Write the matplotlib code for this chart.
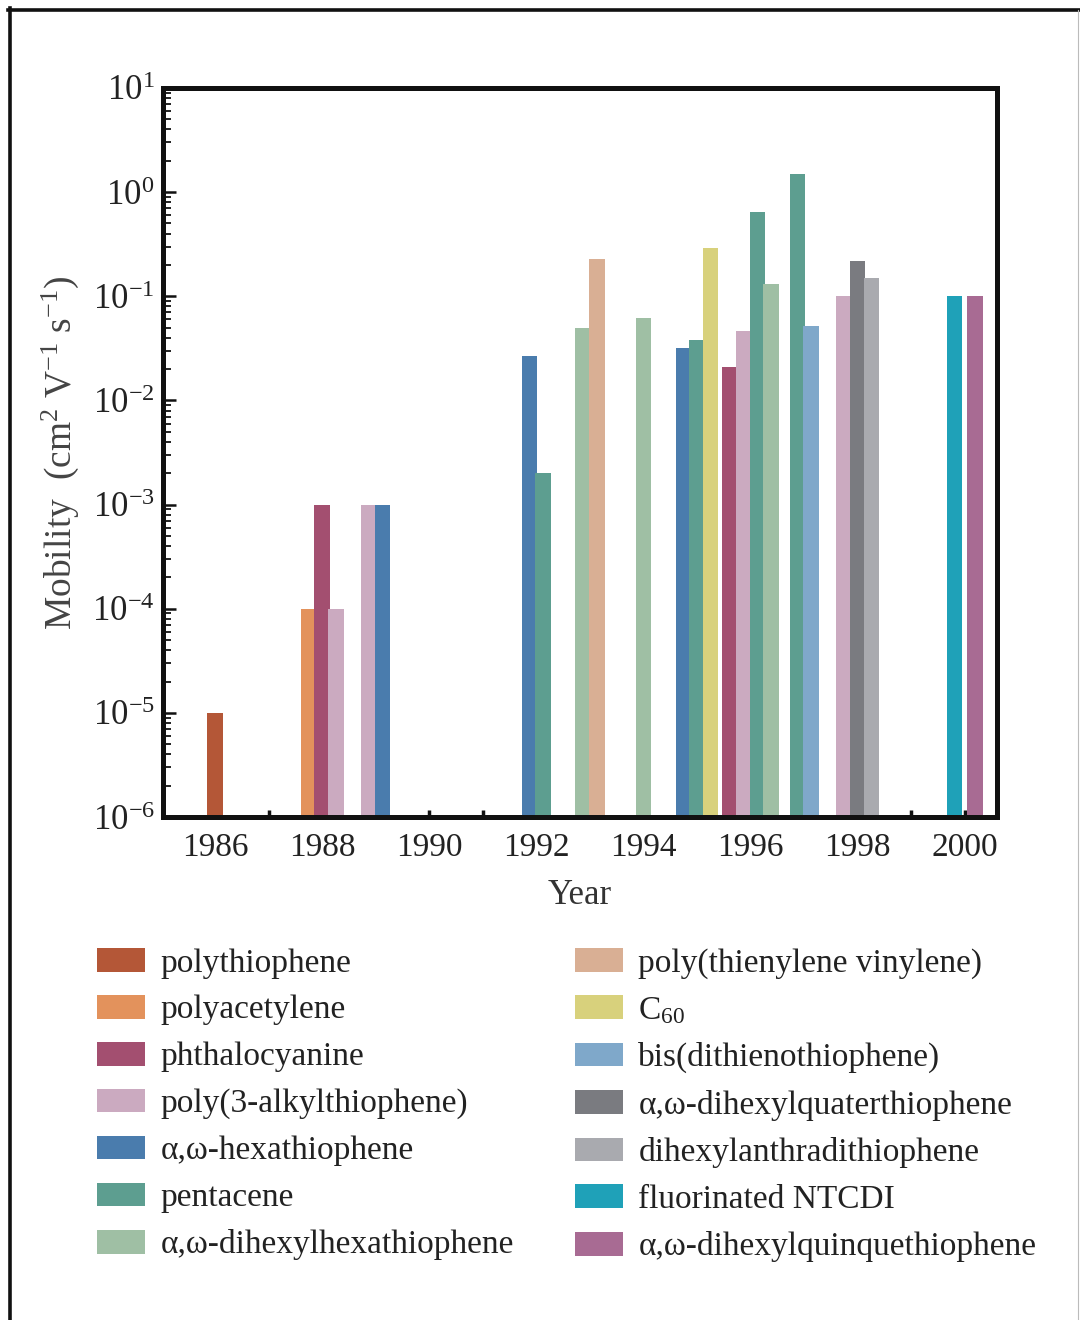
import matplotlib as mpl
mpl.use("agg")
import matplotlib.pyplot as plt
from matplotlib.patches import Patch
from matplotlib.ticker import LogLocator, MultipleLocator, NullFormatter
import numpy as np

plt.rcParams['font.family'] = ['Liberation Serif', 'DejaVu Serif']
plt.rcParams['mathtext.fontset'] = 'custom'
plt.rcParams['mathtext.rm'] = 'Liberation Serif'
plt.rcParams['mathtext.it'] = 'Liberation Serif:italic'
plt.rcParams['mathtext.bf'] = 'Liberation Serif:bold'

# series (legend order) and colours
names = ["polythiophene", "polyacetylene", "phthalocyanine",
         "poly(3-alkylthiophene)", "α,ω-hexathiophene", "pentacene",
         "α,ω-dihexylhexathiophene", "poly(thienylene vinylene)", "C$_{60}$",
         "bis(dithienothiophene)", "α,ω-dihexylquaterthiophene",
         "dihexylanthradithiophene", "fluorinated NTCDI",
         "α,ω-dihexylquinquethiophene"]
colors = ["#b45737", "#e3925c", "#a34f70", "#cbaac0", "#4a7cad", "#5d9e90",
          "#9fbfa4", "#d9af94", "#d8d17c", "#7fa8ca", "#7a7b80", "#a9aaaf",
          "#1fa1b8", "#a86b93"]

# years and mobilities (cm^2 / V s), per series
years = [
    [1986],
    [1988],
    [1988, 1996],
    [1988, 1989, 1996, 1998],
    [1989, 1992, 1995],
    [1992, 1995, 1996, 1997],
    [1993, 1994, 1996],
    [1993],
    [1995],
    [1997],
    [1998],
    [1998],
    [2000],
    [2000],
]
mobility = [
    [1e-5],
    [1e-4],
    [1e-3, 0.021],
    [1e-4, 1e-3, 0.046, 0.1],
    [1e-3, 0.027, 0.032],
    [0.002, 0.038, 0.65, 1.5],
    [0.05, 0.062, 0.13],
    [0.23],
    [0.29],
    [0.052],
    [0.22],
    [0.15],
    [0.1],
    [0.1],
]

step = 0.255
width = 0.29

fig = plt.figure(figsize=(10.8, 13.2), dpi=100)
ax = fig.add_axes([163/1080, 1-817/1320, (997-163)/1080, (817-88)/1320])

# dodge bars within each year, in series order
groups = {}
for s in range(len(names)):
    for yr in years[s]:
        groups.setdefault(yr, []).append(s)

for s in range(len(names)):
    for yr, val in zip(years[s], mobility[s]):
        members = groups[yr]
        k = members.index(s)
        # the two 2000 bars sit a little further apart
        st = step * 1.5 if len(members) == 2 and yr == 2000 else step
        off = (k - (len(members)-1)/2.0) * st
        ax.bar(yr + off, val - 1e-6, width=width, bottom=1e-6,
               color=colors[s], linewidth=0, zorder=2)

ax.set_yscale('log')
ax.set_ylim(1e-6, 1e1)
ax.set_xlim(1985.03, 2000.6)

ax.yaxis.set_major_locator(LogLocator(base=10, numticks=20))
ax.yaxis.set_minor_locator(LogLocator(base=10, subs=np.arange(2, 10), numticks=20))
ax.yaxis.set_minor_formatter(NullFormatter())
ax.xaxis.set_major_locator(MultipleLocator(2))
ax.xaxis.set_minor_locator(MultipleLocator(1))

for side in ['left', 'right', 'top', 'bottom']:
    ax.spines[side].set_linewidth(3.6)
    ax.spines[side].set_color('#111111')

ax.tick_params(axis='y', which='major', direction='in', length=9, width=1.8,
               labelsize=25, pad=6, colors='#111111', labelcolor='#222222')
ax.tick_params(axis='y', which='minor', direction='in', length=6, width=1.3,
               colors='#111111')
ax.tick_params(axis='x', which='both', direction='in', length=5, width=2.5,
               labelsize=24, pad=11, colors='#111111', labelcolor='#222222')
ax.tick_params(top=False, right=False, which='both')

ax.set_xlabel("Year", fontsize=25, color='#333333', labelpad=12)
ax.set_ylabel("Mobility  (cm$^2$ V$^{-1}$ s$^{-1}$)", fontsize=27,
              color='#444444', labelpad=8)

handles = [Patch(facecolor=c, edgecolor='none') for c in colors]
leg_kw = dict(frameon=False, fontsize=24, handlelength=1.45, handleheight=0.72,
              handletextpad=0.45, labelspacing=0.49, borderpad=0,
              borderaxespad=0, loc='upper left')
leg1 = fig.legend(handles[:7], names[:7], bbox_to_anchor=(97/1080, 1-948/1320), **leg_kw)
leg2 = fig.legend(handles[7:], names[7:], bbox_to_anchor=(575/1080, 1-948/1320), **leg_kw)
for leg in (leg1, leg2):
    for t in leg.get_texts():
        t.set_color('#222222')

# outer frame of the figure panel
fig.add_artist(plt.Line2D([9.5/1080, 9.5/1080], [0, 1-8/1320], transform=fig.transFigure,
                          color='#111111', linewidth=2.6))
fig.add_artist(plt.Line2D([8/1080, 1], [1-9.5/1320, 1-9.5/1320], transform=fig.transFigure,
                          color='#111111', linewidth=2.6))
fig.add_artist(plt.Line2D([1078/1080, 1078/1080], [0, 1-10/1320], transform=fig.transFigure,
                          color='#bbbbbb', linewidth=0.8))

fig.savefig("out.png", dpi=100)
